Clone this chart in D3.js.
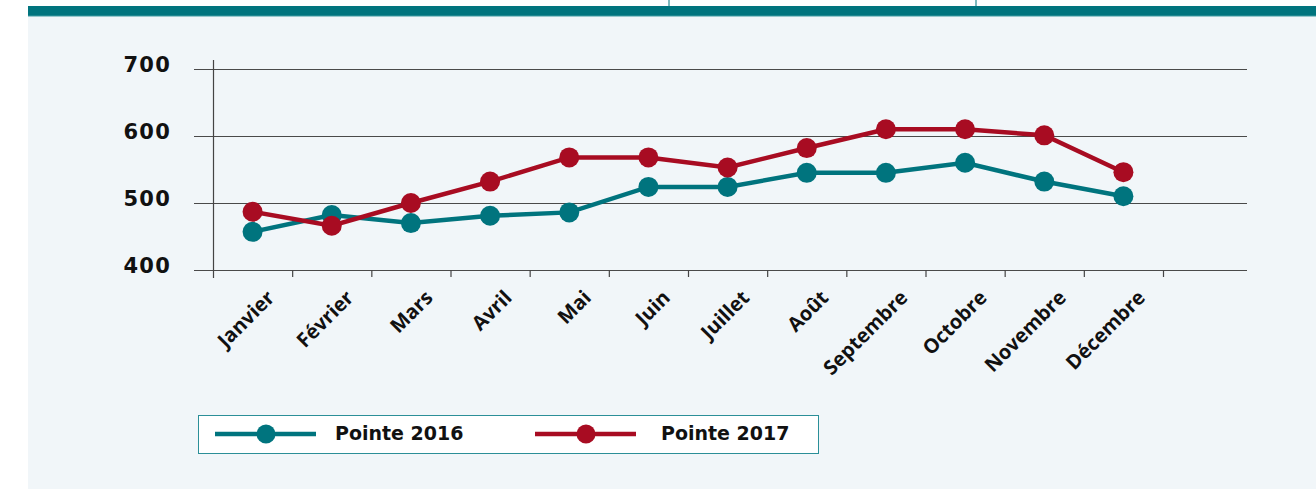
<!DOCTYPE html>
<html>
<head>
<meta charset="utf-8">
<script src="https://cdn.jsdelivr.net/npm/d3@7"></script>
<style>
  body { margin: 0; background: #fff; }
  svg { display: block; }
</style>
</head>
<body>
<script>
// monthly peaks, 2016 vs 2017
var months = ["Janvier", "Février", "Mars", "Avril", "Mai", "Juin", "Juillet", "Août",
              "Septembre", "Octobre", "Novembre", "Décembre"];
var pointe2016 = [457, 482, 470, 481, 486, 524, 524, 545, 545, 560, 532, 510];
var pointe2017 = [487, 466, 500, 532, 568, 568, 553, 582, 610, 610, 601, 546];
var yTicks = [400, 500, 600, 700];
var seriesNames = ["Pointe 2016", "Pointe 2017"];

var width = 1316, height = 489;
var teal = "#00747e", red = "#a80c22";

var svg = d3.select("body").append("svg")
    .attr("width", width)
    .attr("height", height);

// page frame
svg.append("rect").attr("x", 28).attr("y", 16).attr("width", width - 28).attr("height", height - 16)
    .attr("fill", "#f1f6f9");
svg.append("rect").attr("x", 28).attr("y", 6).attr("width", width - 28).attr("height", 10)
    .attr("fill", teal);
svg.append("line").attr("x1", 28).attr("x2", width).attr("y1", 16).attr("y2", 16)
    .attr("stroke", "#3f9aa2").attr("stroke-width", 1);
[669, 976].forEach(function(x) {
  svg.append("line").attr("x1", x).attr("x2", x).attr("y1", 0).attr("y2", 6)
      .attr("stroke", teal).attr("stroke-width", 1);
});

var x = d3.scaleBand().domain(months).range([213, 1163]);
var y = d3.scaleLinear().domain([400, 700]).range([270, 69]);
var gridLeft = 194, gridRight = 1247;

// gridlines
svg.append("g").selectAll("line")
  .data(yTicks)
  .enter().append("line")
    .attr("x1", gridLeft).attr("x2", gridRight)
    .attr("y1", function(d) { return y(d) + 0.5; })
    .attr("y2", function(d) { return y(d) + 0.5; })
    .attr("stroke", "#4a4a4a").attr("stroke-width", 1.2);

// y axis line
svg.append("line")
    .attr("x1", 213.5).attr("x2", 213.5).attr("y1", 60).attr("y2", 278)
    .attr("stroke", "#444").attr("stroke-width", 1.2);

// y labels
svg.append("g").selectAll("text")
  .data(yTicks)
  .enter().append("text")
    .attr("x", 171)
    .attr("y", function(d) { return y(d) + 2.5; })
    .attr("text-anchor", "end")
    .style("font-family", "DejaVu Sans")
    .style("font-weight", "bold")
    .style("font-size", "21px")
    .style("letter-spacing", "1.2px")
    .attr("fill", "#111")
    .text(function(d) { return d; });

// x ticks (band edges)
var edges = months.map(function(m) { return x(m); }).concat([x.range()[1]]);
svg.append("g").selectAll("line")
  .data(edges.slice(1))
  .enter().append("line")
    .attr("x1", function(d) { return d + 0.5; })
    .attr("x2", function(d) { return d + 0.5; })
    .attr("y1", 270).attr("y2", 277)
    .attr("stroke", "#444").attr("stroke-width", 1.2);

// x labels
svg.append("g").selectAll("text")
  .data(months)
  .enter().append("text")
    .attr("transform", function(d) {
      return "translate(" + (x(d) + x.bandwidth() / 2 + 23) + ",299) rotate(-45)";
    })
    .attr("text-anchor", "end")
    .style("font-family", "Open Sans")
    .style("font-weight", "bold")
    .style("font-size", "20px")
    .attr("fill", "#111")
    .text(function(d) { return d; });

// series
var series = [
  { name: seriesNames[0], values: pointe2016, color: teal },
  { name: seriesNames[1], values: pointe2017, color: red }
];

var line = d3.line()
    .x(function(d, i) { return x(months[i]) + x.bandwidth() / 2; })
    .y(function(d) { return y(d); });

series.forEach(function(s) {
  svg.append("path")
      .datum(s.values)
      .attr("d", line)
      .attr("fill", "none")
      .attr("stroke", s.color)
      .attr("stroke-width", 4.5);
  svg.append("g").selectAll("circle")
    .data(s.values)
    .enter().append("circle")
      .attr("cx", function(d, i) { return x(months[i]) + x.bandwidth() / 2; })
      .attr("cy", function(d) { return y(d); })
      .attr("r", 10)
      .attr("fill", s.color);
});

// legend
var legend = svg.append("g");
legend.append("rect")
    .attr("x", 198.5).attr("y", 415.5).attr("width", 620).attr("height", 38)
    .attr("fill", "#fff").attr("stroke", "#2b8f98").attr("stroke-width", 1);

var legendX = d3.scalePoint().domain(seriesNames).range([215, 535]);
var items = legend.selectAll(".item")
  .data(series)
  .enter().append("g")
    .attr("transform", function(d) { return "translate(" + legendX(d.name) + ",434)"; });
items.append("line")
    .attr("x1", 0).attr("x2", 101).attr("y1", 0).attr("y2", 0)
    .attr("stroke", function(d) { return d.color; })
    .attr("stroke-width", 4.5);
items.append("circle")
    .attr("cx", 51).attr("cy", 0).attr("r", 9.5)
    .attr("fill", function(d) { return d.color; });
items.append("text")
    .attr("x", function(d, i) { return i === 0 ? 120 : 126; })
    .attr("y", 6)
    .style("font-family", "DejaVu Sans")
    .style("font-weight", "bold")
    .style("font-size", "19px")
    .attr("fill", "#111")
    .text(function(d) { return d.name; });
</script>
</body>
</html>
